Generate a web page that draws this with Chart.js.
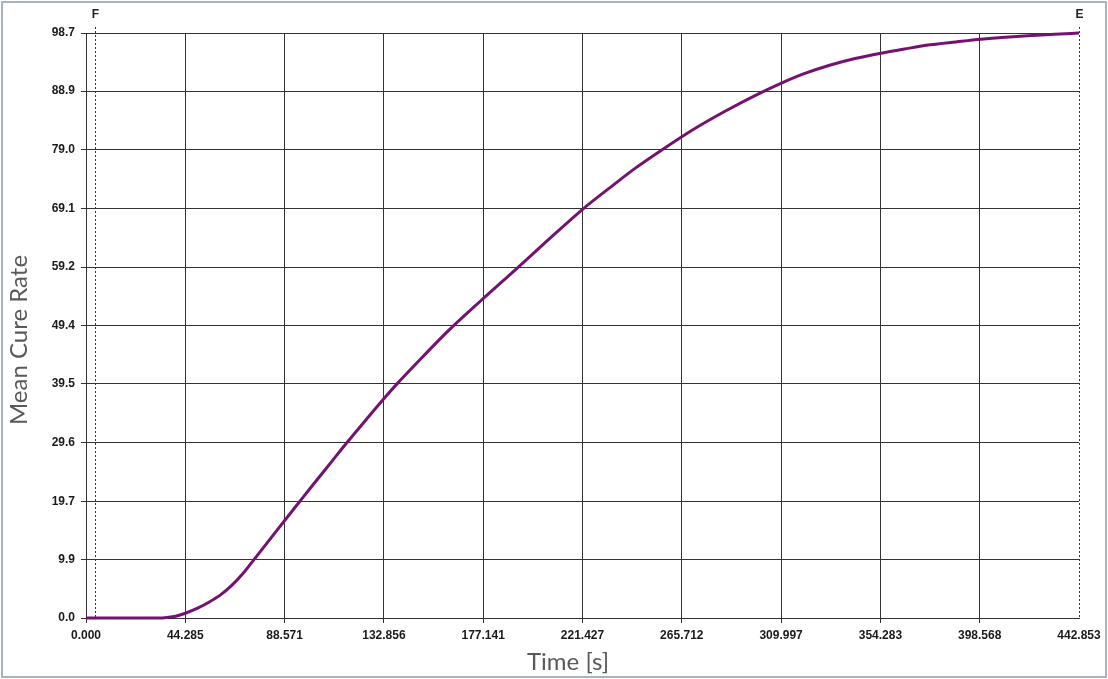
<!DOCTYPE html>
<html>
<head>
<meta charset="utf-8">
<script src="https://cdn.jsdelivr.net/npm/chart.js"></script>
<style>
  html, body { margin: 0; padding: 0; background: #fff; }
  #wrap { position: relative; width: 1108px; height: 679px; }
</style>
</head>
<body>
<div id="wrap"><canvas id="cure"></canvas></div>
<script>
// values
const times = [0, 10, 20, 30, 35, 40, 44.3, 50, 55, 60, 65, 70, 75, 80, 88.7, 95.4, 100, 110,
  116.4, 125, 133.3, 138.7, 150, 161.4, 175.7, 192.2, 205, 221.6, 235, 245, 256.9, 270.3,
  285, 299.7, 310.4, 320, 332, 343, 354.5, 365, 376.4, 388, 399, 410, 420, 432, 442.853];
const cureRate = [0, 0, 0, 0, 0.05, 0.3, 0.8, 1.7, 2.7, 3.9, 5.5, 7.5, 9.9, 12.3, 16.5, 19.7, 21.9, 26.6,
  29.6, 33.5, 37.2, 39.5, 44.0, 48.4, 53.4, 59.0, 63.4, 69.0, 73.0, 75.9, 79.0, 82.3,
  85.5, 88.4, 90.3, 91.8, 93.3, 94.4, 95.3, 96.0, 96.7, 97.2, 97.65, 98.0, 98.25, 98.5, 98.7];
const xTicks = [0, 44.285, 88.571, 132.856, 177.141, 221.427, 265.712, 309.997, 354.283, 398.568, 442.853];
const yTicks = [0.0, 9.9, 19.7, 29.6, 39.5, 49.4, 59.2, 69.1, 79.0, 88.9, 98.7];
const markerTimes = [4.0, 442.853];
const markerLabels = ['F', 'E'];
const xTitle = 'Time [s]';
const yTitle = 'Mean Cure Rate';

const gridColor = '#333';
const tickFont = { family: 'Liberation Sans', size: 12, weight: 'bold' };

// F / E dashed markers, axis titles and the frame around the picture
const extras = {
  id: 'extras',
  afterDatasetsDraw(chart) {
    const { ctx, scales: { x }, chartArea } = chart;
    ctx.save();
    ctx.strokeStyle = '#333';
    ctx.lineWidth = 1;
    ctx.setLineDash([2, 2]);
    ctx.fillStyle = '#222';
    ctx.font = 'bold 12px "Liberation Sans"';
    ctx.textAlign = 'center';
    ctx.textBaseline = 'middle';
    markerTimes.forEach((t, i) => {
      const px = Math.round(x.getPixelForValue(t)) + 0.5;
      ctx.beginPath();
      ctx.moveTo(px, chartArea.top - 6);
      ctx.lineTo(px, chartArea.bottom);
      ctx.stroke();
      ctx.fillText(markerLabels[i], px, 15);
    });
    ctx.restore();
  },
  afterDraw(chart) {
    const ctx = chart.ctx;
    ctx.save();
    ctx.fillStyle = '#595959';
    ctx.font = '24px Lato';
    ctx.textAlign = 'center';
    ctx.textBaseline = 'middle';
    ctx.fillText(xTitle, 568, 662);
    ctx.translate(19, 340);
    ctx.rotate(-Math.PI / 2);
    ctx.fillText(yTitle, 0, 0);
    ctx.restore();

    ctx.save();
    ctx.strokeStyle = '#a7b3c1';
    ctx.lineWidth = 2;
    ctx.strokeRect(2, 2, chart.width - 4, chart.height - 4);
    ctx.restore();
  }
};

new Chart(document.getElementById('cure'), {
  type: 'line',
  data: {
    datasets: [{
      data: times.map((t, i) => ({ x: t, y: cureRate[i] })),
      borderColor: '#74126f',
      borderWidth: 3,
      pointRadius: 0,
      cubicInterpolationMode: 'monotone',
      clip: false
    }]
  },
  options: {
    responsive: true,
    maintainAspectRatio: false,
    animation: false,
    layout: { padding: { top: 33, right: 29, left: 0, bottom: 0 } },
    plugins: { legend: { display: false }, tooltip: { enabled: false } },
    scales: {
      x: {
        type: 'linear',
        min: 0,
        max: 442.853,
        afterBuildTicks: s => { s.ticks = xTicks.map(v => ({ value: v })); },
        afterFit: s => { s.height = 61; },
        grid: {
          color: c => (c.index === xTicks.length - 1 ? 'rgba(0,0,0,0)' : gridColor),
          tickLength: 5
        },
        border: { color: gridColor },
        ticks: {
          autoSkip: false,
          maxRotation: 0,
          padding: 5,
          color: '#1a1a1a',
          font: tickFont,
          callback: v => v.toFixed(3)
        }
      },
      y: {
        min: 0,
        max: 98.7,
        afterBuildTicks: s => { s.ticks = yTicks.map(v => ({ value: v })); },
        afterFit: s => { s.width = 86; },
        grid: { color: gridColor, tickLength: 5 },
        border: { color: gridColor },
        ticks: {
          autoSkip: false,
          padding: 6,
          color: '#1a1a1a',
          font: tickFont,
          callback: v => v.toFixed(1)
        }
      }
    }
  },
  plugins: [extras]
});
</script>
</body>
</html>
